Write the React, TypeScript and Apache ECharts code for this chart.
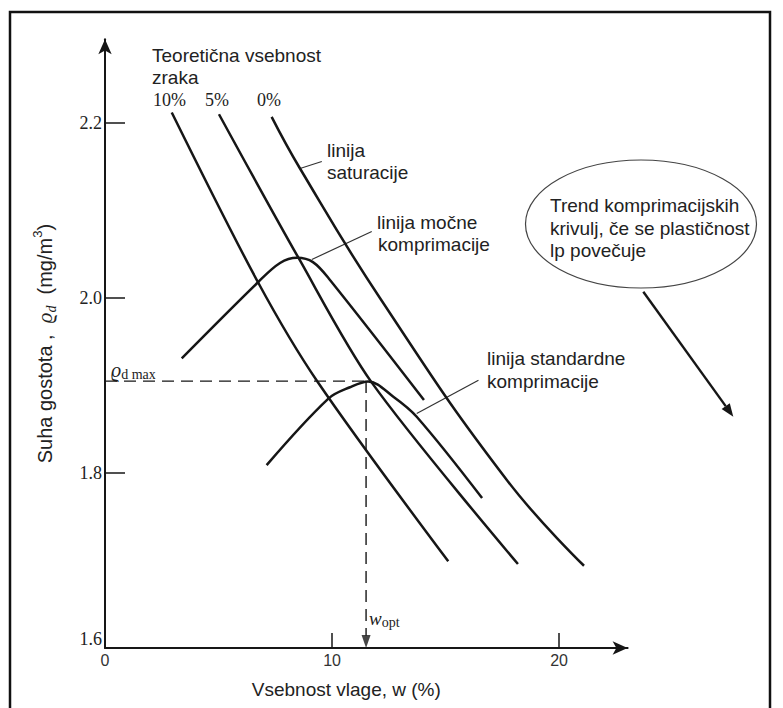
import React, { useEffect, useRef } from "react";
import * as echarts from "echarts";

// Axis ticks / labels
const xLabelValues = [0, 10, 20];
const xTickValues = [10, 20];
const yLabelValues = [1.6, 1.8, 2.0, 2.2];
const yTickValues = [1.8, 2.0, 2.2];

// Air-voids lines (w %, dry density)
const air10W = [2.94, 6.74, 9.37, 15.12];
const air10Rho = [2.212, 2.018, 1.904, 1.699];
const air5W = [5.02, 8.52, 11.76, 18.19];
const air5Rho = [2.21, 2.046, 1.903, 1.696];
const air0W = [7.34, 8.59, 12.11, 17.7, 21.1];
const air0Rho = [2.207, 2.148, 2.0, 1.792, 1.694];

// Compaction curves
const heavyW = [3.38, 6.74, 7.71, 8.46, 9.16, 9.91, 14.05];
const heavyRho = [1.931, 2.018, 2.04, 2.046, 2.041, 2.0206, 1.8834];
const stdW = [7.12, 9.84, 10.79, 11.59, 12.7, 13.73, 16.61];
const stdRho = [1.809, 1.885, 1.898, 1.9046, 1.8872, 1.8643, 1.7714];

// Optimum
const wOpt = 11.5;
const rhoMax = 1.905;

// Leader lines (data coords)
const satLeader = [[8.59, 2.148], [9.55, 2.156]];
const heavyLeader = [[9.11, 2.044], [11.75, 2.076]];
const stdLeader = [[13.73, 1.868], [16.45, 1.906]];

const zip = (a: number[], b: number[]) => a.map((v, i) => [v, b[i]]);

const SANS = "'Liberation Sans', Arial, sans-serif";
const SERIF = "'Liberation Serif', 'DejaVu Serif', 'Times New Roman', serif";
const INK = "#161616";
const TXT = "#222";

function curve(data: number[][], smooth = 0.3) {
  return {
    type: "line",
    data,
    symbol: "none",
    smooth,
    silent: true,
    clip: false,
    lineStyle: { color: INK, width: 2.5 },
    z: 3,
  };
}
function leader(data: number[][]) {
  return {
    type: "line",
    data,
    symbol: "none",
    silent: true,
    clip: false,
    lineStyle: { color: "#333", width: 1.2 },
    z: 2,
  };
}

function txt(text: string, x: number, y: number, size = 19, family = SANS, extra: any = {}) {
  return {
    type: "text",
    x,
    y,
    silent: true,
    style: { text, fill: TXT, fontSize: size, fontFamily: family, align: "left", verticalAlign: "middle", ...extra },
  };
}

export default function App() {
  const ref = useRef<HTMLDivElement>(null);
  useEffect(() => {
    if (!ref.current) return;
    const chart = echarts.init(ref.current, undefined, { renderer: "svg" });

    // trend arrow geometry
    const ax0 = 643.3, ay0 = 291.7, ax1 = 733.3, ay1 = 416.7;
    const len = Math.hypot(ax1 - ax0, ay1 - ay0);
    const ux = (ax1 - ax0) / len, uy = (ay1 - ay0) / len;
    const hl = 13, hw = 5;
    const bx = ax1 - hl * ux, by = ay1 - hl * uy;
    const nx = -uy, ny = ux;

    const option: any = {
      animation: false,
      backgroundColor: "#fff",
      grid: { left: 105, top: 39.25, right: 155.4, bottom: 60, containLabel: false, outerBoundsMode: "none" },
      xAxis: {
        type: "value",
        min: 0,
        max: 23.02,
        axisLine: { onZero: false, symbol: ["none", "arrow"], symbolSize: [10, 15], lineStyle: { color: INK, width: 2 } },
        axisTick: { show: true, inside: true, length: 15, customValues: xTickValues, lineStyle: { color: INK, width: 1.5 } },
        axisLabel: { customValues: xLabelValues, fontFamily: SANS, fontSize: 16, color: "#333", margin: 4 },
        splitLine: { show: false },
        name: "Vsebnost vlage, w (%)",
        nameLocation: "middle",
        nameGap: 32,
        nameTextStyle: { fontFamily: SANS, fontSize: 19, color: TXT, padding: [0, 40, 0, 0] },
      },
      yAxis: {
        type: "value",
        min: 1.6,
        max: 2.2957,
        axisLine: { onZero: false, symbol: ["none", "arrow"], symbolSize: [10, 15], lineStyle: { color: INK, width: 2 } },
        axisTick: { show: true, inside: true, length: 20, customValues: yTickValues, lineStyle: { color: INK, width: 1.5 } },
        axisLabel: {
          customValues: yLabelValues,
          formatter: (v: number) => v.toFixed(1),
          fontFamily: SERIF,
          fontSize: 18,
          color: TXT,
          margin: 3,
          verticalAlignMinLabel: "bottom",
        },
        splitLine: { show: false },
        name: "{t|Suha gostota ,  }{r|ϱ}{s|d}{t|  (mg/m}{p|3}{t|)}",
        nameLocation: "middle",
        nameRotate: 90,
        nameGap: 47,
        nameTextStyle: {
          rich: {
            t: { fontFamily: SANS, fontSize: 20, color: TXT, lineHeight: 27 },
            r: { fontFamily: SERIF, fontStyle: "italic", fontSize: 21, color: TXT },
            s: { fontFamily: SERIF, fontStyle: "italic", fontSize: 14, color: TXT, verticalAlign: "bottom" },
            p: { fontFamily: SANS, fontSize: 13, color: TXT, verticalAlign: "top" },
          },
        },
      },
      series: [
        curve(zip(air10W, air10Rho), 0.3),
        curve(zip(air5W, air5Rho), 0.3),
        curve(zip(air0W, air0Rho), 0.45),
        curve(zip(heavyW, heavyRho), 0.35),
        curve(zip(stdW, stdRho), 0.35),
        {
          type: "line",
          data: [[0, rhoMax], [wOpt + 0.1, rhoMax]],
          symbol: "none",
          silent: true,
          lineStyle: { color: INK, width: 1.4, type: [12, 7] },
        },
        {
          type: "line",
          data: [[wOpt, rhoMax], [wOpt, 1.614]],
          symbol: "none",
          silent: true,
          lineStyle: { color: INK, width: 1.4, type: [12, 7] },
        },
        {
          type: "scatter",
          data: [[wOpt, 1.6]],
          symbol: "triangle",
          symbolSize: [9, 13],
          symbolRotate: 180,
          symbolOffset: [0, -6.5],
          silent: true,
          clip: false,
          itemStyle: { color: INK },
          z: 4,
        },
        leader(satLeader),
        leader(heavyLeader),
        leader(stdLeader),
      ],
      graphic: [
        { type: "rect", silent: true, shape: { x: 10, y: 12, width: 760, height: 720 }, style: { fill: "none", stroke: "#111", lineWidth: 2.5 } },
        { type: "ellipse", silent: true, shape: { cx: 641, cy: 224, rx: 115.5, ry: 64 }, style: { fill: "none", stroke: "#444", lineWidth: 1.2 } },
        { type: "line", silent: true, shape: { x1: ax0, y1: ay0, x2: bx, y2: by }, style: { stroke: INK, lineWidth: 2.4 } },
        {
          type: "polygon",
          silent: true,
          shape: { points: [[ax1, ay1], [bx + hw * nx, by + hw * ny], [bx - hw * nx, by - hw * ny]] },
          style: { fill: INK },
        },
        txt("Teoretična vsebnost", 152, 55),
        txt("zraka", 152, 77),
        txt("10%", 153, 100, 18, SERIF),
        txt("5%", 205, 100, 18, SERIF),
        txt("0%", 257, 100, 18, SERIF),
        txt("linija", 327, 150),
        txt("saturacije", 327, 172),
        txt("linija močne", 377, 222),
        txt("komprimacije", 378, 244),
        txt("linija standardne", 487, 358),
        txt("komprimacije", 487, 381),
        txt("Trend komprimacijskih", 550, 205),
        txt("krivulj, če se plastičnost", 550, 228),
        txt("lp povečuje", 550, 250),
        txt("{r|ϱ}{s|d max}", 111, 370, 18, SERIF, {
          rich: {
            r: { fontFamily: SERIF, fontStyle: "italic", fontSize: 20, fill: TXT, lineHeight: 22 },
            s: { fontFamily: SERIF, fontSize: 14, fill: TXT, verticalAlign: "bottom", lineHeight: 14 },
          },
        }),
        txt("{w|w}{o|opt}", 369, 618, 18, SERIF, {
          rich: {
            w: { fontFamily: SERIF, fontStyle: "italic", fontSize: 19, fill: TXT, lineHeight: 22 },
            o: { fontFamily: SERIF, fontSize: 14, fill: TXT, verticalAlign: "bottom", lineHeight: 14 },
          },
        }),
      ],
    };
    chart.setOption(option);
    return () => chart.dispose();
  }, []);
  return <div ref={ref} style={{ position: "absolute", left: 0, top: 0, width: 783, height: 708 }} />;
}
